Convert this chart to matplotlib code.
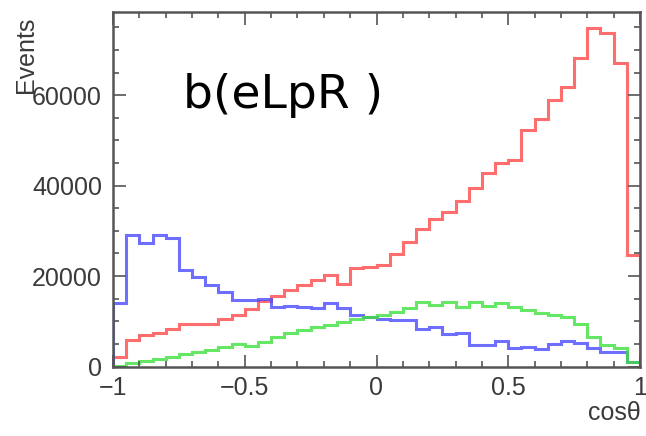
import numpy as np
import matplotlib
matplotlib.use("Agg")
import matplotlib.pyplot as plt
from matplotlib.ticker import MultipleLocator

# 40 bins in cos(theta) from -1 to 1
bin_lo, bin_hi, n_bins = -1.0, 1.0, 40

red_counts = [2200, 5800, 7000, 7300, 8200, 9300, 9400, 9300, 10400, 11400,
              12700, 14500, 15600, 16900, 18100, 19100, 20200, 18300, 21700, 22000,
              22400, 24800, 27500, 30500, 32600, 34200, 36500, 39400, 42700, 45000,
              45700, 52300, 54700, 58900, 61900, 68200, 74900, 73800, 67100, 24700]

blue_counts = [14000, 29100, 27400, 29100, 28500, 21300, 19700, 18000, 16500, 14800,
               14800, 15000, 13100, 13400, 13100, 12900, 14000, 12900, 11400, 11000,
               10400, 10300, 10200, 8200, 8800, 7200, 7500, 4750, 4750, 5700,
               4000, 4400, 3900, 5000, 5700, 5100, 4000, 3300, 3100, 1100]

green_counts = [200, 700, 1200, 1700, 2200, 2800, 3200, 3600, 4300, 5000,
                4600, 5500, 6500, 7300, 8100, 8700, 9200, 9900, 10600, 11000,
                11400, 12100, 12900, 14300, 13600, 14300, 13100, 14300, 13400, 14100,
                13100, 12600, 11900, 11400, 10900, 9500, 6600, 4700, 4000, 1000]

x_ticks = [-1, -0.5, 0, 0.5, 1]
x_tick_labels = ["\u22121", "\u22120.5", "0", "0.5", "1"]
y_ticks = [0, 20000, 40000, 60000]
y_tick_labels = ["0", "20000", "40000", "60000"]
title_text = "b(eLpR )"

edges = np.linspace(bin_lo, bin_hi, n_bins + 1)

fig = plt.figure(figsize=(6.46, 4.36), dpi=100)
ax = fig.add_axes([113 / 646, 1 - 366.5 / 436, 527 / 646, 354.5 / 436])

ax.stairs(red_counts, edges, color="#ff4a4a", lw=2.2, alpha=0.8)
ax.stairs(blue_counts, edges, color="#4a4aff", lw=2.2, alpha=0.8)
ax.stairs(green_counts, edges, color="#3fe03f", lw=2.2, alpha=0.8)

ax.set_xlim(-1, 1)
ax.set_ylim(0, 78400)

ax.set_xticks(x_ticks)
ax.set_xticklabels(x_tick_labels)
ax.set_yticks(y_ticks)
ax.set_yticklabels(y_tick_labels)
ax.xaxis.set_minor_locator(MultipleLocator(0.1))
ax.yaxis.set_minor_locator(MultipleLocator(5000))

ax.tick_params(which="both", direction="in", top=True, right=True,
               colors="#555555", labelcolor="#3a3a3a", labelsize=18,
               width=1.2)
ax.tick_params(which="major", length=9)
ax.tick_params(which="minor", length=4.5)
ax.tick_params(axis="x", pad=7)
ax.tick_params(axis="y", pad=8)
for lab in ax.get_xticklabels() + ax.get_yticklabels():
    lab.set_fontfamily("Liberation Sans")

for s in ax.spines.values():
    s.set_color("#555555")
    s.set_linewidth(1.8)

fig.text(26 / 646, 1 - 55 / 436, "Events", rotation=90, ha="center", va="center",
         fontsize=18, color="#3a3a3a", family="Liberation Sans")
fig.text(641 / 646, 1 - 413 / 436, "cos\u03b8", ha="right", va="center",
         fontsize=18, color="#3a3a3a", family="Liberation Sans")

ax.text(0.133, 0.729, title_text, transform=ax.transAxes, ha="left",
        va="baseline", fontsize=34, color="black", family="DejaVu Sans")

fig.savefig("out.png", dpi=100)
